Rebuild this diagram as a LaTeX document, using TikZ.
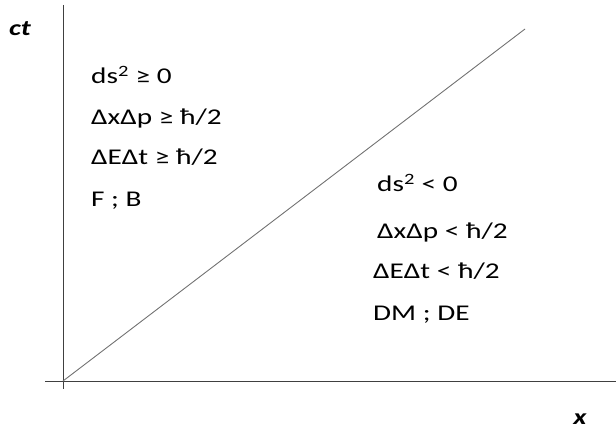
\documentclass[tikz,border=0pt]{standalone}
\usepackage{fontspec}
\setmainfont{Carlito}
\newcommand{\wide}[1]{\scalebox{1.3}[1]{#1}}
\begin{document}
\begin{tikzpicture}[x=1pt,y=-1pt,
  lbl/.style={anchor=base west,inner sep=0pt,font=\fontsize{22.5}{26}\selectfont,text=black},
  axlbl/.style={inner sep=0pt,font=\fontsize{22}{26}\selectfont\bfseries\itshape},
  axis/.style={draw=black!75,line width=1pt},
  diag/.style={draw=black!55,line width=0.9pt}]
\useasboundingbox (0,0) rectangle (616,430);
\coordinate (o) at (63,381);
\coordinate (ytop) at (63,5);
\coordinate (ybot) at (63,389);
\coordinate (xl) at (45,381);
\coordinate (xr) at (616,381);
\coordinate (dend) at (525,29);
\draw[axis] (ytop) -- (ybot);
\draw[axis] (xl) -- (xr);
\draw[diag] (o) -- (dend);
\node[axlbl] (ct) at (20,29) {\wide{ct}};
\node[axlbl] (xx) at (580,419) {\wide{x}};
\node[lbl] (a1) at (91,84) {\wide{ds\textsuperscript{2} ≥ 0}};
\node[lbl] (a2) at (91,125) {\wide{ΔxΔp ≥ ħ/2}};
\node[lbl] (a3) at (91,165) {\wide{ΔEΔt ≥ ħ/2}};
\node[lbl] (a4) at (91,207) {\wide{F ; B}};
\node[lbl] (b1) at (377,192) {\wide{ds\textsuperscript{2} < 0}};
\node[lbl] (b2) at (377,239) {\wide{ΔxΔp < ħ/2}};
\node[lbl] (b3) at (373,279) {\wide{ΔEΔt < ħ/2}};
\node[lbl] (b4) at (373,321) {\wide{DM ; DE}};
\end{tikzpicture}
\end{document}
